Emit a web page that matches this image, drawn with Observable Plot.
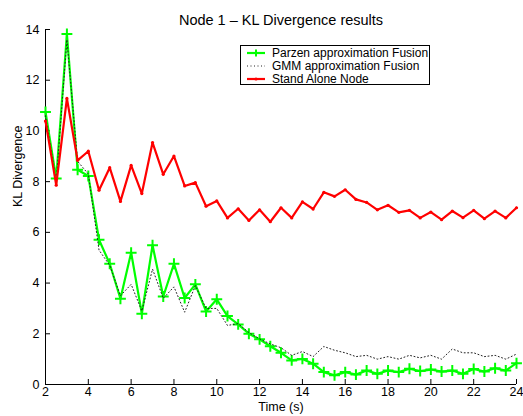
<!DOCTYPE html>
<html>
<head>
<meta charset="utf-8">
<script src="https://cdn.jsdelivr.net/npm/d3@7"></script>
<script src="https://cdn.jsdelivr.net/npm/@observablehq/plot@0.6"></script>
<style>
  html, body { margin: 0; padding: 0; background: #fff; }
  #wrap { position: relative; width: 523px; height: 416px; font-family: "Liberation Sans", Arial, sans-serif; }
  #legend { position: absolute; left: 240px; top: 45px; width: 190px; height: 40px; border: 1.3px solid #000; background: #fff; font-size: 12px; box-sizing: border-box; padding-top: 1px; white-space: nowrap; overflow: visible; }
  #legend .row { display: flex; align-items: center; height: 12.8px; white-space: nowrap; }
  #legend svg { margin-left: 5px; margin-right: 6px; flex: none; }
</style>
</head>
<body>
<div id="wrap">
  <div id="chart"></div>
  <div id="legend"></div>
</div>
<script>
const title = "Node 1 \u2013 KL Divergence results";
const xLabel = "Time (s)";
const yLabel = "KL Divergence";
const seriesNames = ["Parzen approximation Fusion", "GMM approximation Fusion", "Stand Alone Node"];
const xTicks = [2, 4, 6, 8, 10, 12, 14, 16, 18, 20, 22, 24];
const yTicks = [0, 2, 4, 6, 8, 10, 12, 14];

const time = [2, 2.5, 3, 3.5, 4, 4.5, 5, 5.5, 6, 6.5, 7, 7.5, 8, 8.5, 9, 9.5, 10, 10.5, 11, 11.5, 12, 12.5, 13, 13.5, 14, 14.5, 15, 15.5, 16, 16.5, 17, 17.5, 18, 18.5, 19, 19.5, 20, 20.5, 21, 21.5, 22, 22.5, 23, 23.5, 24];

const parzen = [10.75, 8.12, 13.82, 8.47, 8.22, 5.71, 4.76, 3.38, 5.2, 2.79, 5.49, 3.47, 4.76, 3.41, 3.95, 2.88, 3.36, 2.7, 2.37, 2.0, 1.78, 1.51, 1.25, 0.95, 1.01, 0.82, 0.49, 0.36, 0.49, 0.39, 0.55, 0.42, 0.55, 0.49, 0.62, 0.53, 0.59, 0.51, 0.55, 0.42, 0.61, 0.51, 0.64, 0.55, 0.84];

const gmm = [10.6, 8.0, 13.6, 8.8, 8.3, 5.3, 4.7, 3.5, 3.95, 2.9, 4.55, 3.4, 3.85, 2.85, 3.9, 3.0, 3.0, 2.33, 2.4, 2.05, 1.8, 1.6, 1.45, 1.15, 1.3, 1.1, 1.5, 1.35, 1.25, 1.1, 1.15, 1.0, 1.1, 1.0, 1.15, 1.05, 1.15, 1.0, 1.4, 1.25, 1.25, 1.1, 1.15, 1.0, 1.2];

const standAlone = [10.39, 7.86, 11.28, 8.84, 9.2, 7.66, 8.55, 7.22, 8.64, 7.53, 9.54, 8.29, 9.01, 7.83, 7.96, 7.03, 7.24, 6.57, 6.93, 6.47, 6.89, 6.42, 6.97, 6.57, 7.2, 6.92, 7.58, 7.42, 7.68, 7.3, 7.18, 6.89, 7.07, 6.79, 6.87, 6.57, 6.8, 6.5, 6.84, 6.58, 6.87, 6.54, 6.84, 6.57, 6.97];

const colors = ["#00ff00", "#000000", "#ff0000"];

const rows = (vals) => time.map((t, i) => ({t, v: vals[i]}));
const P = rows(parzen), G = rows(gmm), S = rows(standAlone);

const font = "Liberation Sans, Arial, sans-serif";

const chart = Plot.plot({
  width: 523,
  height: 416,
  marginTop: 29,
  marginBottom: 32,
  marginLeft: 45,
  marginRight: 7,
  style: { fontFamily: font, fontSize: "12.5px", background: "#fff", overflow: "visible" },
  x: { domain: [2, 24] },
  y: { domain: [0, 14] },
  marks: [
    Plot.axisX({ ticks: xTicks, tickSize: -5, tickPadding: 8, tickFormat: d => String(d), label: null, fontSize: 12.5 }),
    Plot.axisY({ ticks: yTicks, tickSize: -5, tickPadding: 11, tickFormat: d => String(d), label: null, fontSize: 12.5 }),
    Plot.ruleX([xTicks[0]], { stroke: "#000", strokeWidth: 1 }),
    Plot.ruleY([yTicks[0]], { stroke: "#000", strokeWidth: 1 }),
    Plot.line(P, { x: "t", y: "v", stroke: colors[0], strokeWidth: 2.2 }),
    Plot.dot(P, { x: "t", y: "v", symbol: "plus", r: 3.6, stroke: colors[0], strokeWidth: 2 }),
    Plot.line(G, { x: "t", y: "v", stroke: "#222", strokeWidth: 1, strokeDasharray: "1,2.5" }),
    Plot.line(S, { x: "t", y: "v", stroke: colors[2], strokeWidth: 2.2 }),
    Plot.dot(S, { x: "t", y: "v", r: 1.6, fill: colors[2], stroke: "none" }),
    Plot.text([title], { frameAnchor: "top", dy: -15, fontSize: 14.5, fill: "#000" }),
    Plot.text([xLabel], { frameAnchor: "bottom", dy: 26, fontSize: 12.5, fill: "#000" }),
    Plot.text([yLabel], { frameAnchor: "left", dx: -28, rotate: -90, fontSize: 12.5, fill: "#000" })
  ]
});
document.getElementById("chart").appendChild(chart);

// Legend
const legend = document.getElementById("legend");
seriesNames.forEach((name, i) => {
  const row = document.createElement("div");
  row.className = "row";
  let sample = "";
  if (i === 0) {
    sample = `<svg width="20" height="10"><line x1="1" y1="5" x2="19" y2="5" stroke="${colors[0]}" stroke-width="2.2"/><line x1="10" y1="1.5" x2="10" y2="8.5" stroke="${colors[0]}" stroke-width="2"/></svg>`;
  } else if (i === 1) {
    sample = `<svg width="20" height="10"><line x1="1" y1="5" x2="19" y2="5" stroke="#222" stroke-width="1" stroke-dasharray="1,2.5"/></svg>`;
  } else {
    sample = `<svg width="20" height="10"><line x1="1" y1="5" x2="19" y2="5" stroke="${colors[2]}" stroke-width="2.2"/><circle cx="10" cy="5" r="1.6" fill="${colors[2]}"/></svg>`;
  }
  row.innerHTML = sample + `<span>${name}</span>`;
  legend.appendChild(row);
});
</script>
</body>
</html>
